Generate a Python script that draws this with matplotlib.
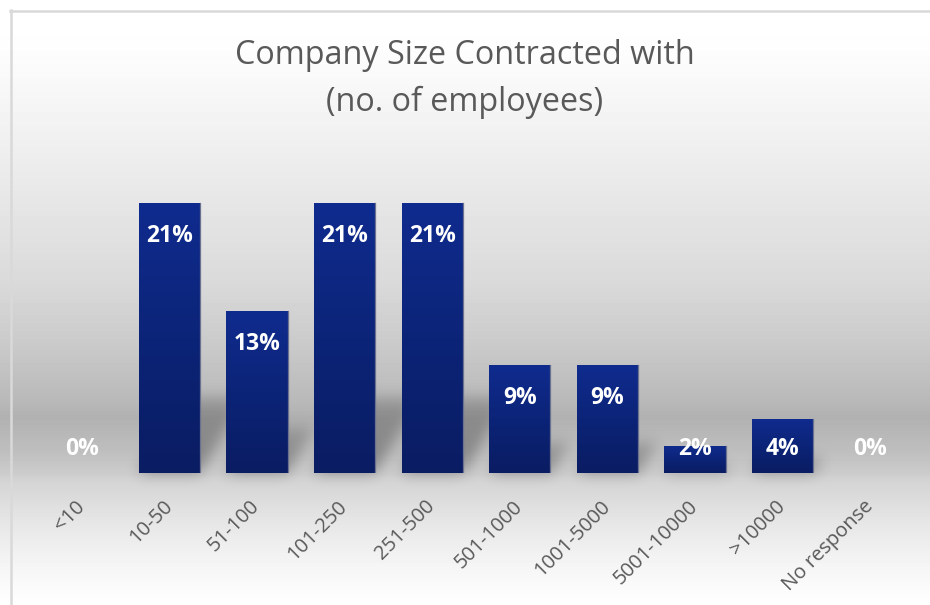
import numpy as np
import matplotlib
matplotlib.use("Agg")
import matplotlib.pyplot as plt
from matplotlib.colors import LinearSegmentedColormap

# survey shares (fraction of respondents)
categories = ["<10", "10-50", "51-100", "101-250", "251-500", "501-1000",
              "1001-5000", "5001-10000", ">10000", "No response"]
shares = [0.0, 0.2128, 0.1277, 0.2128, 0.2128, 0.0851, 0.0851, 0.0213, 0.0426, 0.0]
title = "Company Size Contracted with\n(no. of employees)"

W, H = 930, 605
FONT = "Open Sans"
GREY_TXT = "#595959"

fig = plt.figure(figsize=(W / 100, H / 100), dpi=100)

# ── background: vertical grey band behind the bars ──
bg = fig.add_axes([0, 0, 1, 1])
bg.axis("off")
ys = np.arange(H)
stops_y = [0, 45, 150, 280, 350, 400, 417, 450, 473, 480, 520, 560, 600, 605]
stops_v = [1.0, 0.995, 0.935, 0.855, 0.785, 0.725, 0.695, 0.745, 0.80, 0.83, 0.90, 0.955, 0.995, 1.0]
col = np.interp(ys, stops_y, stops_v)
bg.imshow(np.repeat(col[:, None], W, axis=1), extent=(-2, W + 2, H, 0), cmap="gray",
          vmin=0, vmax=1, aspect="auto", zorder=0, interpolation="nearest")
# chart frame (top + left edges)
bg.plot([10, W + 2], [10.5, 10.5], color="#d9d9d9", lw=1.8, zorder=3)
bg.plot([10.5, 10.5], [10, H + 2], color="#d9d9d9", lw=1.8, zorder=3)

# ── plot area ──
base_px, top_px, left_px, right_px = 473, 156, 38, 914
ax = fig.add_axes([left_px / W, (H - base_px) / H, (right_px - left_px) / W,
                   (base_px - top_px) / H])
ax.patch.set_alpha(0)
x = np.arange(len(categories))
ymax = 0.25

bar_cmap = LinearSegmentedColormap.from_list("navy", ["#0a1c62", "#0c2478", "#0f2b8e"])
bars = ax.bar(x, shares, width=0.7, color="none", edgecolor="none", zorder=2)
grad = np.linspace(0, 1, 256)[:, None]
for b, v in zip(bars, shares):
    if v <= 0:
        continue
    x0 = b.get_x(); x1 = x0 + b.get_width()
    im = ax.imshow(grad, extent=(x0, x1, 0, v), origin="lower", cmap=bar_cmap,
                   aspect="auto", zorder=2, interpolation="bilinear")
    im.set_clip_path(b)
    ax.plot([x1, x1], [0, v], color="#6a7290", lw=0.9, zorder=3)

ax.set_xlim(-0.5, len(categories) - 0.5)
ax.set_ylim(0, ymax)
for s in ax.spines.values():
    s.set_visible(False)
ax.set_yticks([])
ax.set_xticks(x)
ax.set_xticklabels(categories, rotation=45, ha="right", va="center",
                   rotation_mode="anchor", fontsize=14.5, color=GREY_TXT, family=FONT)
ax.tick_params(axis="x", length=0, pad=22)

# ── soft cast shadows to the right of each bar ──
mask = np.zeros((H, W))
for b, v in zip(bars, shares):
    if v <= 0:
        continue
    (dx0, dy0), (dx1, dy1) = ax.transData.transform([(b.get_x(), 0),
                                                     (b.get_x() + b.get_width(), v)])
    yb, yt = H - dy0, H - dy1
    hb = yb - yt
    h = 0.28 * hb
    s = 0.6 * h
    for r in range(int(yb - h), int(yb)):
        f = (yb - r) / h
        l, rr = int(dx0 + s * f), int(dx1 + s * f)
        mask[r, max(l, 0):min(rr, W)] = 1.0 - 0.5 * f
sig = 7
k = np.exp(-0.5 * (np.arange(-3 * sig, 3 * sig + 1) / sig) ** 2)
k /= k.sum()
mask = np.apply_along_axis(lambda c: np.convolve(c, k, mode="same"), 0, mask)
mask = np.apply_along_axis(lambda c: np.convolve(c, k, mode="same"), 1, mask)
shadow = np.zeros((H, W, 4))
shadow[..., 3] = np.clip(mask * 0.34, 0, 1)
bg.imshow(shadow, extent=(0, W, H, 0), aspect="auto", zorder=1, interpolation="nearest")
bg.set_xlim(0, W); bg.set_ylim(H, 0)

# ── value labels (inside end, kept clear of the baseline) ──
px_per_unit = (base_px - top_px) / ymax
for i, v in enumerate(shares):
    top = base_px - v * px_per_unit
    y_lab = min(top + 33, base_px - 24)
    ax.annotate(f"{v:.0%}", xy=(i, 0), xytext=(0, base_px - y_lab),
                textcoords="offset pixels", ha="center", va="center",
                color="white", fontsize=16.5, fontweight="bold", family=FONT, zorder=5)

fig.text(0.5, 1 - 79 / H, title, ha="center", va="center", fontsize=23.3,
         color=GREY_TXT, family=FONT, linespacing=1.55)

fig.savefig("out.png", dpi=100)
